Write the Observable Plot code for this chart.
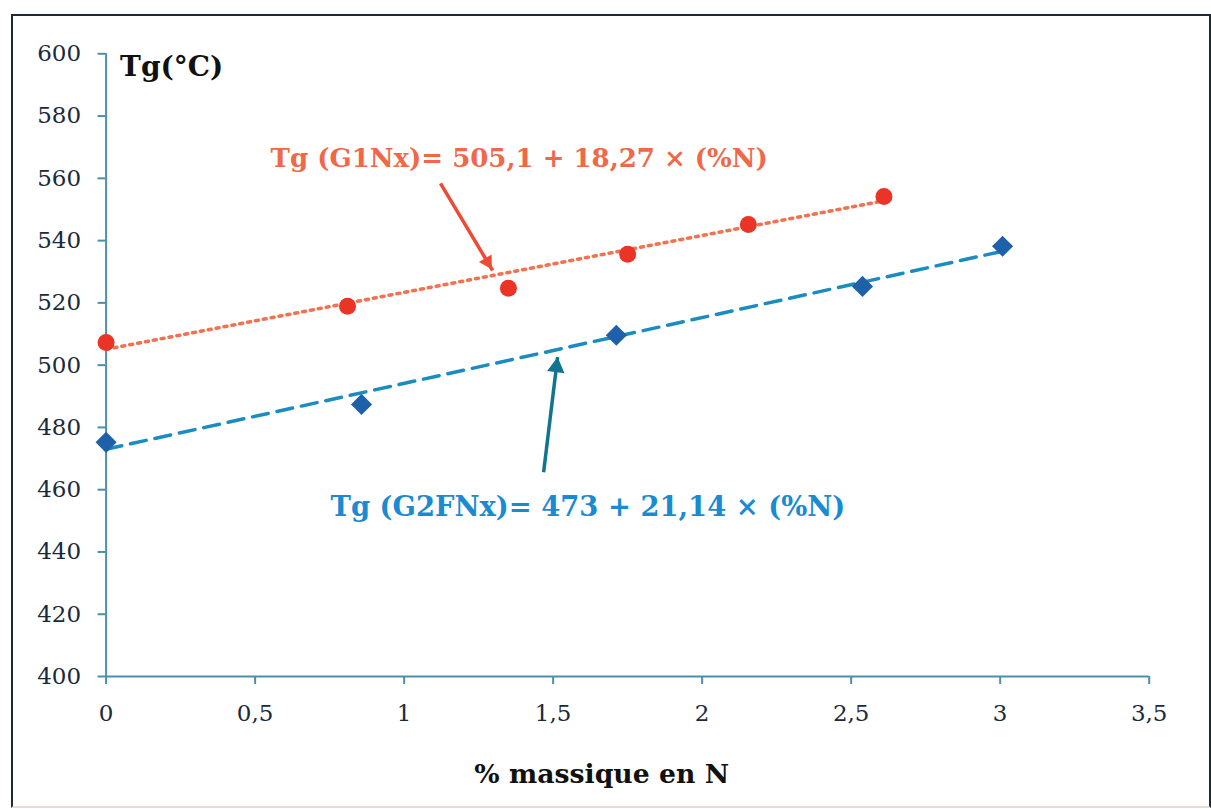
<!DOCTYPE html>
<html>
<head>
<meta charset="utf-8">
<script src="https://cdn.jsdelivr.net/npm/d3@7"></script>
<script src="https://cdn.jsdelivr.net/npm/@observablehq/plot@0.6"></script>
<style>
  html, body { margin: 0; padding: 0; background: #fff; }
  #wrap { position: relative; width: 1211px; height: 809px; overflow: hidden; }
  #border { position: absolute; left: 11px; top: 14px; width: 1196px; height: 790px;
            border: 2px solid #1e2b33; border-bottom-color: #e8dcd6; box-sizing: content-box; pointer-events: none; }
</style>
</head>
<body>
<div id="wrap"><div id="border"></div></div>
<script>
// Series G1Nx (red circles)
const g1N  = [0, 0.81, 1.35, 1.75, 2.155, 2.61];
const g1Tg = [507.3, 518.9, 524.7, 535.6, 545.2, 554.2];
// Series G2FNx (blue diamonds)
const g2N  = [0, 0.857, 1.712, 2.538, 3.008];
const g2Tg = [475.2, 487.4, 509.6, 525.3, 538.2];
// Linear fits given in the chart
const g1Fit = {a: 505.1, b: 18.27};
const g2Fit = {a: 473, b: 21.14};
// Ticks
const xTicks = [0, 0.5, 1, 1.5, 2, 2.5, 3, 3.5];
const yTicks = [400, 420, 440, 460, 480, 500, 520, 540, 560, 580, 600];
// Texts
const yTitle = "Tg(\u00B0C)";
const xTitle = "% massique en N";
const g1Label = "Tg (G1Nx)= 505,1 + 18,27 \u00D7 (%N)";
const g2Label = "Tg (G2FNx)= 473 + 21,14 \u00D7 (%N)";
// Annotation anchors (data coordinates)
const g1LabelPos = {x: 0.552, y: 566.4};
const g2LabelPos = {x: 0.753, y: 454.4};
const g1Arrow = {x1: 1.122, y1: 558.4, x2: 1.297, y2: 530.4};
const g2Arrow = {x1: 1.468, y1: 465.6, x2: 1.515, y2: 502.6};

const g1 = g1N.map((n, i) => ({n, tg: g1Tg[i]}));
const g2 = g2N.map((n, i) => ({n, tg: g2Tg[i]}));
const fitLine = (fit, xs) => [d3.min(xs), d3.max(xs)].map(n => ({n, tg: fit.a + fit.b * n}));

const teal = "#4a90a8";
const dark = "#1b2a3a";
const serif = "'DejaVu Serif', serif";
const fmt = d => String(d).replace(".", ",");

// arrow-head styling (pixel rotation & tip offset)
const head1 = {rotate: 149, dx: -5.2, dy: -8.6, fill: "#ee4b36"};
const head2 = {rotate: 7, dx: -1.2, dy: 10, fill: "#12758f"};

const chart = Plot.plot({
  width: 1211,
  height: 809,
  marginLeft: 105.6,
  marginRight: 62.3,
  marginTop: 53.3,
  marginBottom: 133,
  style: {fontFamily: serif, fontSize: "24px", background: "transparent", overflow: "visible"},
  x: {domain: [0, 3.5], label: null},
  y: {domain: [400, 600], label: null},
  marks: [
    Plot.ruleX([0], {stroke: teal, strokeWidth: 2}),
    Plot.ruleY([400], {stroke: teal, strokeWidth: 2}),
    Plot.axisY({ticks: yTicks, tickSize: 8, tickPadding: 17, stroke: teal, strokeWidth: 2, fill: dark, fontSize: 23, fontFamily: serif, label: null}),
    Plot.axisX({ticks: xTicks, tickSize: 8, tickPadding: 20, stroke: teal, strokeWidth: 2, fill: dark, fontSize: 23, fontFamily: serif, tickFormat: fmt, label: null}),
    // fit lines
    Plot.line(fitLine(g1Fit, g1N), {x: "n", y: "tg", stroke: "#f2714f", strokeWidth: 3.5, strokeDasharray: "3,5", strokeLinecap: "round"}),
    Plot.line(fitLine(g2Fit, g2N), {x: "n", y: "tg", stroke: "#1a8cbf", strokeWidth: 3.5, strokeDasharray: "16,9"}),
    // points
    Plot.dot(g1, {x: "n", y: "tg", r: 8.5, fill: "#ec3426", stroke: "none"}),
    Plot.dot(g2, {x: "n", y: "tg", r: 9.5, symbol: "diamond2", fill: "#1f60ab", stroke: "none"}),
    // arrows: shaft + filled head
    Plot.link([g1Arrow], {x1: "x1", y1: "y1", x2: "x2", y2: "y2", stroke: head1.fill, strokeWidth: 3.5}),
    Plot.dot([g1Arrow], {x: "x2", y: "y2", symbol: "triangle", r: 5.5, stroke: "none", ...head1}),
    Plot.link([g2Arrow], {x1: "x1", y1: "y1", x2: "x2", y2: "y2", stroke: head2.fill, strokeWidth: 3.5}),
    Plot.dot([g2Arrow], {x: "x2", y: "y2", symbol: "triangle", r: 6.5, stroke: "none", ...head2}),
    // annotations
    Plot.text([g1LabelPos], {x: "x", y: "y", text: () => g1Label, textAnchor: "start", fill: "#f06848", fontWeight: "bold", fontSize: 26, fontFamily: serif}),
    Plot.text([g2LabelPos], {x: "x", y: "y", text: () => g2Label, textAnchor: "start", fill: "#1a8bd0", fontWeight: "bold", fontSize: 27.4, fontFamily: serif}),
    // axis titles
    Plot.text([yTitle], {frameAnchor: "top-left", text: d => d, dx: 14, dy: 2, lineAnchor: "top", textAnchor: "start", fill: "#111", fontWeight: "bold", fontSize: 28, fontFamily: serif}),
    Plot.text([xTitle], {frameAnchor: "bottom", text: d => d, dx: -26, dy: 98, lineAnchor: "middle", fill: "#111", fontWeight: "bold", fontSize: 26.7, fontFamily: serif})
  ]
});
chart.style.position = "absolute";
chart.style.left = "0px";
chart.style.top = "0px";
document.getElementById("wrap").appendChild(chart);
</script>
</body>
</html>
